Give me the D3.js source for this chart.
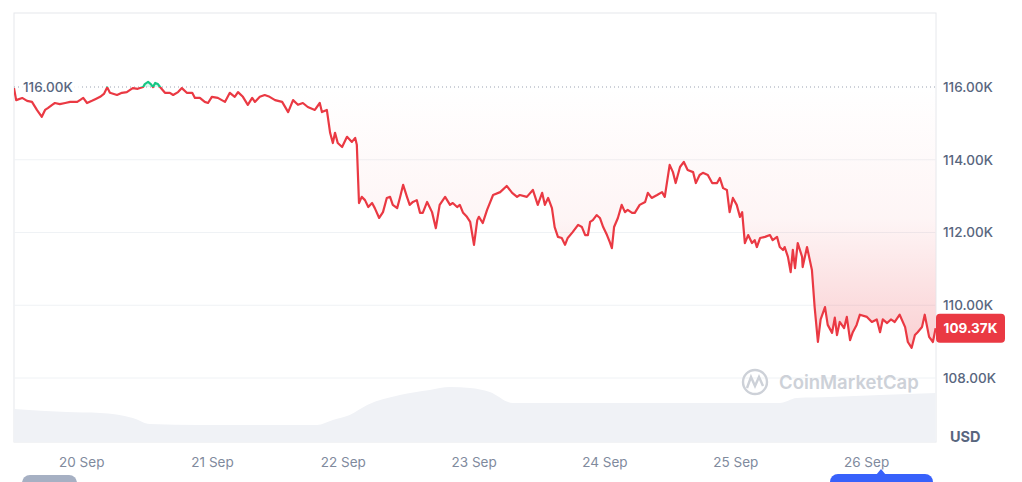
<!DOCTYPE html>
<html><head><meta charset="utf-8">
<script src="https://cdn.jsdelivr.net/npm/d3@7"></script>
<style>
html,body{margin:0;padding:0;background:#fff;}
svg{display:block;font-family:Inter,"Noto Sans",sans-serif;}
</style></head><body>
<svg id="chart" width="1022" height="482"></svg>
<script>
// ---------- DATA ----------
const startTime = "2025-09-19T11:40:00Z";
const endTime = "2025-09-26T12:50:00Z";
// hours since startTime
const hours = [0,0.4,1.5,2.4,3.3,4.2,5.1,5.7,6.2,7.0,7.5,8.4,9.4,10.3,11.6,12.1,12.7,13.4,14.3,15.0,
15.8,16.5,17.1,17.6,18.9,19.8,20.7,21.3,21.8,22.7,23.7,24.0,24.6,25.1,25.5,25.9,26.4,26.8,27.7,28.6,
29.2,30.1,30.8,31.7,32.7,33.2,34.1,35.0,35.6,36.3,37.4,38.7,39.6,40.5,41.1,42.0,42.9,43.7,44.2,45.1,
46.0,46.9,47.9,49.2,50.3,51.2,52.1,53.0,53.9,55.2,56.1,56.5,57.4,58.0,58.5,58.9,59.4,60.2,61.1,62.0,
62.6,62.9,63.3,63.8,64.4,65.0,65.7,66.2,67.0,67.7,68.4,69.0,69.5,70.3,70.8,71.4,72.1,72.6,73.2,73.9,
74.5,75.0,75.8,76.7,77.4,78.1,79.1,80.0,80.5,81.3,81.8,82.4,83.1,83.7,84.4,85.0,85.3,86.0,86.8,87.3,
87.9,89.2,90.4,91.4,92.3,92.8,94.1,95.2,96.1,96.9,97.4,98.0,98.7,99.2,99.8,100.5,101.1,101.6,102.5,103.5,
104.2,104.8,105.3,105.7,106.2,106.9,107.5,108.1,108.8,109.3,109.7,110.1,110.8,111.5,112.1,112.6,113.4,113.9,114.8,115.8,
116.3,117.0,118.0,118.9,119.4,120.3,120.9,121.4,122.2,122.9,123.6,124.6,125.1,125.8,126.4,127.3,128.1,129.0,129.5,130.1,
130.8,131.3,131.9,132.6,133.2,133.6,134.1,134.7,135.4,135.9,136.3,136.9,137.8,138.7,139.2,140.0,140.5,141.1,141.4,142.0,
142.5,142.9,143.3,143.8,144.6,144.7,145.5,146.4,146.9,147.5,148.0,148.8,149.3,150.1,150.6,151.0,151.5,152.3,152.8,153.4,
153.9,154.6,155.2,156.5,157.4,158.3,158.9,159.4,160.2,160.9,161.6,162.5,163.5,164.0,164.7,165.3,165.8,166.6,167.1,167.9,
168.6,169.1];
// BTC price, USD
const prices = [115970,115640,115700,115620,115590,115370,115180,115370,115420,115510,115560,115530,115560,115590,115590,115640,115700,115560,115620,115670,
115730,115810,115990,115840,115780,115840,115860,115920,115970,115950,116000,116080,116140,116080,116000,116110,116080,116000,115840,115840,
115780,115860,115970,115840,115840,115700,115700,115590,115560,115730,115700,115590,115840,115730,115860,115730,115510,115700,115590,115730,
115780,115730,115640,115590,115310,115640,115510,115560,115450,115370,115560,115310,115370,114740,114460,114740,114460,114350,114630,114490,
114600,114410,112810,112980,112890,112700,112810,112670,112400,112560,112950,112980,112760,112670,112950,113310,112980,112760,112840,112890,
112540,112540,112840,112560,112120,112760,112980,112760,112810,112700,112760,112540,112430,112290,111660,112340,112430,112260,112620,112810,
113030,113110,113280,113090,112980,113030,112980,113170,112760,113090,112760,112950,112670,112150,111880,111850,111660,111850,112010,112210,
112150,111930,111930,112290,112340,112480,112400,112150,111930,111740,111570,112150,112400,112760,112560,112620,112540,112540,112760,112840,
113090,112950,113030,113110,112980,113860,113660,113360,113800,113940,113720,113660,113360,113580,113640,113580,113360,113360,113500,113220,
113170,112560,112950,112760,112430,112560,111710,111930,111710,111790,111600,111850,111880,111930,111790,111880,111600,111520,111600,111330,
110910,111520,111020,111710,111330,111050,111600,110970,109950,108990,109610,109950,109460,109240,109660,109180,109540,109370,109680,109040,
109260,109460,109740,109680,109540,109610,109260,109610,109510,109610,109540,109740,109400,108990,108830,109180,109260,109400,109740,109130,
108990,109370];
// 24h volume (billion USD)
const volHours = [0,9.7,15.8,21.8,24.9,34.1,43.3,55.6,58.5,61.6,64.8,70.8,76.3,80.0,83.7,87.3,91.5,98.3,107.5,125.8,140.5,143.6,149.7,158.9,169.1];
const volumes  = [33,30,29,24,18,17,17,17,22,27,37,47,52,55,54,50,39,39,39,39,39,44,45,47,49];
const priceTicks = [108000,110000,112000,114000,116000];
const dayTicks = ["2025-09-20","2025-09-21","2025-09-22","2025-09-23","2025-09-24","2025-09-25","2025-09-26"];
const refPrice = 116000;
const lastPrice = 109370;
const currency = "USD";
const brand = "CoinMarketCap";

// ---------- CHART ----------
const svg = d3.select("#chart");
const L = 14, R = 936, T = 13, B = 442;
const t0 = new Date(startTime);
const toDate = h => new Date(t0.getTime() + h * 3600e3);

const x = d3.scaleUtc().domain([new Date(startTime), new Date(endTime)]).range([L, R]);
const y = d3.scaleLinear().domain([108000, 116000]).range([378, 87]);
const yv = d3.scaleLinear().domain([0, 80]).range([B, B - 80]);

const data = hours.map((h, i) => ({ t: toDate(h), v: prices[i] }));
const vdata = volHours.map((h, i) => ({ t: toDate(h), v: volumes[i] }));

const defs = svg.append("defs");
const grad = defs.append("linearGradient").attr("id", "redFill")
  .attr("gradientUnits", "userSpaceOnUse").attr("x1", 0).attr("x2", 0)
  .attr("y1", y(refPrice)).attr("y2", y(108800));
grad.append("stop").attr("offset", "0").attr("stop-color", "#ea3943").attr("stop-opacity", 0.0);
grad.append("stop").attr("offset", "0.5").attr("stop-color", "#ea3943").attr("stop-opacity", 0.05);
grad.append("stop").attr("offset", "1").attr("stop-color", "#ea3943").attr("stop-opacity", 0.24);

defs.append("clipPath").attr("id", "below").append("rect")
  .attr("x", L).attr("y", y(refPrice)).attr("width", R - L).attr("height", B - y(refPrice));
defs.append("clipPath").attr("id", "above").append("rect")
  .attr("x", L).attr("y", 0).attr("width", R - L).attr("height", y(refPrice));

// frame
svg.append("rect").attr("x", L).attr("y", T).attr("width", R - L).attr("height", B - T)
  .attr("fill", "#fff").attr("stroke", "#e6e8ec").attr("stroke-width", 1);

// grid
svg.append("g").selectAll("line").data(priceTicks.filter(d => d !== refPrice)).join("line")
  .attr("x1", L).attr("x2", R).attr("y1", d => y(d)).attr("y2", d => y(d))
  .attr("stroke", "#eff2f5").attr("stroke-width", 1);

// volume area
svg.append("path").datum(vdata)
  .attr("d", d3.area().x(d => x(d.t)).y0(B).y1(d => yv(d.v)).curve(d3.curveMonotoneX))
  .attr("fill", "#f0f2f6");

// price fills
const area = d3.area().x(d => x(d.t)).y0(y(refPrice)).y1(d => y(d.v));
svg.append("path").datum(data).attr("d", area).attr("fill", "url(#redFill)").attr("clip-path", "url(#below)");
svg.append("path").datum(data).attr("d", area).attr("fill", "#16c784").attr("fill-opacity", 0.15).attr("clip-path", "url(#above)");

// reference dotted line
svg.append("line").attr("x1", L).attr("x2", R).attr("y1", y(refPrice)).attr("y2", y(refPrice))
  .attr("stroke", "#9aa2b1").attr("stroke-width", 1).attr("stroke-dasharray", "1,3");

// price line
const line = d3.line().x(d => x(d.t)).y(d => y(d.v));
svg.append("path").datum(data).attr("d", line).attr("fill", "none").attr("stroke", "#ea3943")
  .attr("stroke-width", 2.2).attr("stroke-linejoin", "round").attr("clip-path", "url(#below)");
svg.append("path").datum(data).attr("d", line).attr("fill", "none").attr("stroke", "#16c784")
  .attr("stroke-width", 2.2).attr("stroke-linejoin", "round").attr("clip-path", "url(#above)");

// reference label
const refG = svg.append("g");
refG.append("rect").attr("x", L + 6).attr("y", y(refPrice) - 9).attr("width", 60).attr("height", 19)
  .attr("fill", "#fff").attr("fill-opacity", 0.8);
refG.append("text").attr("x", L + 9).attr("y", y(refPrice) + 5)
  .attr("font-size", 13.5).attr("font-weight", 500).attr("fill", "#58667e")
  .text((refPrice / 1000).toFixed(2) + "K");

// watermark
const wm = svg.append("g").attr("fill", "none").attr("stroke", "#cdd1d8").attr("stroke-width", 2.4);
wm.append("circle").attr("cx", 755).attr("cy", 382).attr("r", 12);
wm.append("path").attr("d", "M747,388 L751,377 L755,386 L759,377 L763,386");
svg.append("text").attr("x", 779).attr("y", 389).attr("font-size", 18.5).attr("font-weight", 600)
  .attr("fill", "#cdd1d8").text(brand);

// y axis
const yAxis = svg.append("g").attr("transform", `translate(${R},0)`)
  .call(d3.axisRight(y).tickValues(priceTicks).tickSize(0).tickPadding(7)
    .tickFormat(d => (d / 1000).toFixed(2) + "K"));
yAxis.select(".domain").remove();
yAxis.selectAll("text").attr("font-family", "Inter,sans-serif").attr("font-size", 13.5)
  .attr("font-weight", 500).attr("fill", "#58667e");

svg.append("text").attr("x", 950).attr("y", 442).attr("font-size", 14.5).attr("font-weight", 700)
  .attr("fill", "#58667e").text(currency);

// x axis
const xAxis = svg.append("g").attr("transform", `translate(0,${B})`)
  .call(d3.axisBottom(x).tickValues(dayTicks.map(d => new Date(d + "T00:00:00Z")))
    .tickSize(0).tickPadding(15).tickFormat(d3.utcFormat("%-d %b")));
xAxis.select(".domain").remove();
xAxis.selectAll("text").attr("font-family", "Inter,sans-serif").attr("font-size", 13.5)
  .attr("fill", "#808a9d");

// last price tag
const ly = y(lastPrice);
svg.append("rect").attr("x", R).attr("y", ly - 14.5).attr("width", 69).attr("height", 29).attr("rx", 4)
  .attr("fill", "#ea3943");
svg.append("text").attr("x", R + 34.5).attr("y", ly + 5).attr("text-anchor", "middle")
  .attr("font-size", 13.5).attr("font-weight", 700).attr("fill", "#fff")
  .text((lastPrice / 1000).toFixed(2) + "K");

// range slider handles (partially visible)
svg.append("rect").attr("x", 22).attr("y", 475).attr("width", 55).attr("height", 20).attr("rx", 8).attr("fill", "#a6b0c3");
svg.append("rect").attr("x", 830).attr("y", 474).attr("width", 103).attr("height", 20).attr("rx", 8).attr("fill", "#3861fb");
svg.append("path").attr("d", "M876,475 L881,469 L886,475 Z").attr("fill", "#3861fb");
</script>
</body></html>
